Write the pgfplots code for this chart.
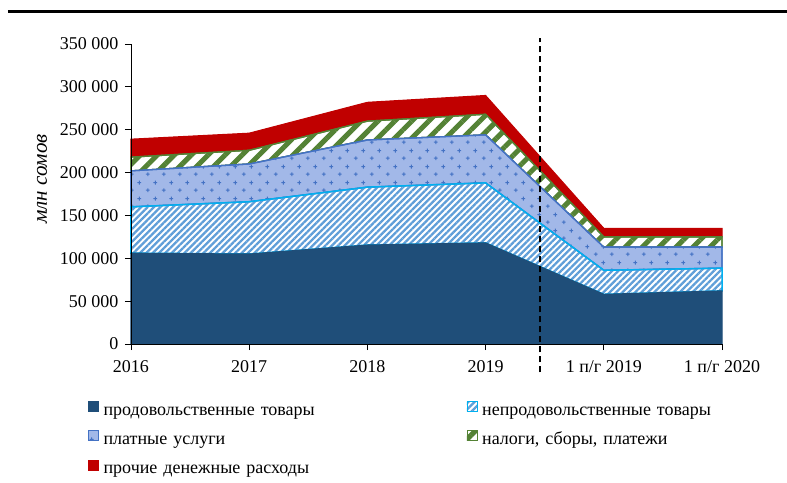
\documentclass[border=0pt]{standalone}
\usepackage{fontspec}
\setmainfont{Liberation Serif}
\usepackage{pgfplots}
\usepackage{pgfplotstable}
\pgfplotsset{compat=1.18}
\usetikzlibrary{patterns.meta}
\definecolor{food}{RGB}{31,78,121}
\definecolor{nonfoodline}{RGB}{0,176,240}
\definecolor{nonfoodhatch}{RGB}{95,158,216}
\definecolor{svcfill}{RGB}{162,184,232}
\definecolor{svcline}{RGB}{68,114,196}
\definecolor{taxgreen}{RGB}{84,130,53}
\definecolor{otherred}{RGB}{192,0,0}

\tikzdeclarepattern{
  name=plusgrid,
  type=colored,
  bottom left={(0pt,0pt)},
  top right={(16pt,16pt)},
  tile size={(16pt,16pt)},
  code={
    \draw[svcline, line width=1.1pt] (2pt,4pt)--(6pt,4pt) (4pt,2pt)--(4pt,6pt) (10pt,12pt)--(14pt,12pt) (12pt,10pt)--(12pt,14pt);
  }
}

\pgfplotstableread{
x food nonfood services taxes other
0 106000 54000 42000 16000 21000
1 105000 61000 44000 16000 20000
2 115500 67500 55000 22000 22000
3 118000 70000 56000 24000 22000
4 58000 28000 27000 12000 10000
5 62000 26500 24500 12000 10000
}\data

\begin{document}
\begin{tikzpicture}
\begin{axis}[
  scale only axis, width=591pt, height=300pt,
  xmin=0, xmax=5, ymin=0, ymax=350000,
  stack plots=y,
  axis lines*=left,
  axis on top,
  clip=false,
  tick align=outside,
  major tick length=6pt,
  tick style={black, line width=0.8pt},
  axis line style={black, line width=0.8pt},
  xtick={0,...,5},
  xticklabels={2016,2017,2018,2019,1 п/г 2019,1 п/г 2020},
  ytick={0,50000,100000,150000,200000,250000,300000,350000},
  yticklabels={0,50 000,100 000,150 000,200 000,250 000,300 000,350 000},
  scaled y ticks=false,
  font=\fontsize{18pt}{21pt}\selectfont,
  ticklabel style={font=\fontsize{18pt}{21pt}\selectfont},
  xticklabel style={yshift=-7pt},
  yticklabel style={xshift=-3pt},
  ylabel={\fontsize{21pt}{25pt}\selectfont\itshape млн сомов},
  ylabel style={at={(axis description cs:-0.1506,0.55)}, anchor=center},
  legend columns=2,
  legend cell align=left,
  legend image code/.code={\path[#1, line width=0.6pt] (0pt,0pt) rectangle (10pt,10pt);},
  legend style={at={(axis description cs:-0.0728,-0.19)}, anchor=north west, draw=none, fill=none,
    inner sep=0pt, outer sep=0pt, column sep=5pt, row sep=11pt,
    font=\fontsize{18pt}{21pt}\selectfont,
    nodes={inner sep=0pt, text width=358pt, text height=12pt, text depth=4pt, align=left}},
]
\addplot[fill=food, draw=food, line width=1pt] table[x=x,y=food]{\data} \closedcycle;
\addlegendentry{продовольственные товары}
\addplot[draw=nonfoodline, line width=1.5pt, pattern={Lines[angle=45,distance=4.5pt,line width=2.3pt]}, pattern color=nonfoodhatch] table[x=x,y=nonfood]{\data} \closedcycle;
\addlegendentry{непродовольственные товары}
\addplot[fill=svcfill, draw=svcline, line width=1.3pt, postaction={pattern=plusgrid}] table[x=x,y=services]{\data} \closedcycle;
\addlegendentry{платные услуги}
\addplot[fill=white, draw=taxgreen, line width=1.3pt, postaction={pattern color=taxgreen, pattern={Lines[angle=45,distance=12pt,line width=5pt]}}] table[x=x,y=taxes]{\data} \closedcycle;
\addlegendentry{налоги, сборы, платежи}
\addplot[fill=otherred, draw=otherred, line width=1pt] table[x=x,y=other]{\data} \closedcycle;
\addlegendentry{прочие денежные расходы}
\coordinate (dbot) at (axis cs:3.46,-33000);
\coordinate (dtop) at (axis cs:3.46,357000);
\end{axis}
\draw[black, line width=1.3pt, dash pattern=on 6pt off 4pt] (dbot) -- (dtop);
\draw[black, line width=3pt] (-123pt,332pt) -- (656pt,332pt);
\pgfresetboundingbox
\path[use as bounding box] (-131pt,-138pt) rectangle (656pt,344pt);
\end{tikzpicture}
\end{document}
